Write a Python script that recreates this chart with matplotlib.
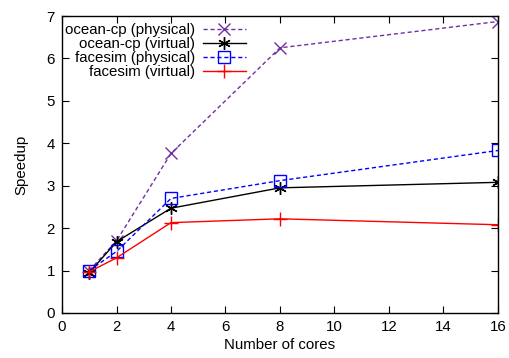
import matplotlib
matplotlib.use("Agg")
import matplotlib.pyplot as plt

plt.rcParams['font.family'] = ['Liberation Sans', 'DejaVu Sans']

cores = [1, 2, 4, 8, 16]
ocean_physical = [1.0, 1.70, 3.76, 6.25, 6.87]
ocean_virtual = [0.95, 1.68, 2.47, 2.95, 3.08]
facesim_physical = [1.0, 1.45, 2.70, 3.12, 3.83]
facesim_virtual = [0.97, 1.30, 2.13, 2.22, 2.08]

FS = 10.8

fig = plt.figure(figsize=(5.09, 3.58), dpi=100)
ax = fig.add_axes([62 / 509, 1 - 313 / 358, 436 / 509, 297 / 358])

ax.plot(cores, ocean_physical, color='#7030a0', linestyle=(0, (3, 2)), linewidth=1,
        marker='x', markersize=8.5, markeredgewidth=1, label='ocean-cp (physical)')
ax.plot(cores, ocean_virtual, color='black', linestyle='-', linewidth=1,
        marker=(6, 2, 0), markersize=9, markeredgewidth=1, label='ocean-cp (virtual)')
ax.plot(cores, facesim_physical, color='#0000ff', linestyle=(0, (3, 2)), linewidth=1,
        marker='s', markersize=8, markerfacecolor='none', markeredgewidth=1,
        label='facesim (physical)')
ax.plot(cores, facesim_virtual, color='#ff0000', linestyle='-', linewidth=1,
        marker='+', markersize=10, markeredgewidth=1, label='facesim (virtual)')

ax.set_xlim(0, 16)
ax.set_ylim(0, 7)
ax.set_xticks(range(0, 17, 2))
ax.set_yticks(range(0, 8))
ax.tick_params(direction='in', top=True, right=True, length=5, labelsize=FS, pad=5)
ax.set_xlabel('Number of cores', fontsize=FS, labelpad=3)
ax.set_ylabel('Speedup', fontsize=FS, labelpad=13)
for s in ax.spines.values():
    s.set_linewidth(1)

ax.legend(loc='upper left', bbox_to_anchor=(0, 1 - 4 / 297), frameon=False,
          markerfirst=False, fontsize=FS,
          handlelength=2.9, labelspacing=0.0, borderaxespad=0.1,
          handletextpad=0.5, borderpad=0.1)

fig.savefig('out.png', dpi=100)
